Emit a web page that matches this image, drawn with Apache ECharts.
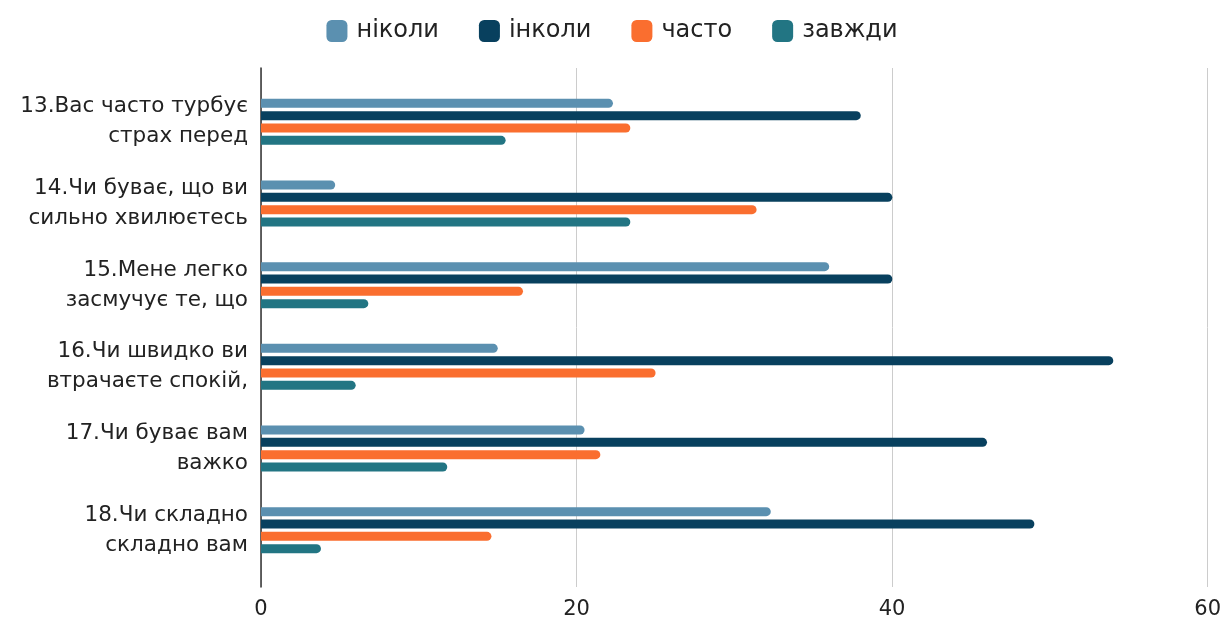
<!DOCTYPE html>
<html>
<head>
<meta charset="utf-8">
<script src="https://cdn.jsdelivr.net/npm/echarts@6/dist/echarts.min.js"></script>
<style>
  html, body { margin: 0; padding: 0; background: #fff; }
  #chart { width: 1224px; height: 620px; }
</style>
</head>
<body>
<div id="chart"></div>
<script>
// Survey questions (two-line labels) and the answer counts for each response option
const categories = [
  '13.Вас часто турбує\nстрах перед',
  '14.Чи буває, що ви\nсильно хвилюєтесь',
  '15.Мене легко\nзасмучує те, що',
  '16.Чи швидко ви\nвтрачаєте спокій,',
  '17.Чи буває вам\nважко',
  '18.Чи складно\nскладно вам'
];
const seriesNames = ['ніколи', 'інколи', 'часто', 'завжди'];
const never     = [22.3, 4.7, 36, 15, 20.5, 32.3];
const sometimes = [38, 40, 40, 54, 46, 49];
const often     = [23.4, 31.4, 16.6, 25, 21.5, 14.6];
const always    = [15.5, 23.4, 6.8, 6, 11.8, 3.8];
const xTicks = { min: 0, max: 60, interval: 20 };

const colors = ['#5b90b0', '#08405e', '#fa6e2f', '#227583'];
const values = [never, sometimes, often, always];
const font = '"DejaVu Sans", "Liberation Sans", Arial, sans-serif';

const chart = echarts.init(document.getElementById('chart'), null, { renderer: 'canvas' });

chart.setOption({
  animation: false,
  color: colors,
  legend: {
    top: 14,
    left: 'center',
    itemWidth: 21,
    itemHeight: 22,
    itemGap: 40,
    icon: 'roundRect',
    textStyle: { fontFamily: font, fontSize: 24, color: '#222', padding: [0, 0, 0, 4] },
    data: seriesNames
  },
  grid: [
    // frame: gridlines, value labels and the vertical baseline
    { left: 261, right: 16, top: 68, bottom: 30 },
    // bars and question labels
    { left: 261, right: 16, top: 81, bottom: 49 }
  ],
  xAxis: [
    {
      gridIndex: 0, type: 'value',
      min: xTicks.min, max: xTicks.max, interval: xTicks.interval,
      axisLine: { show: false }, axisTick: { show: false },
      splitLine: { show: true, lineStyle: { color: '#cccccc', width: 1 } },
      axisLabel: { fontFamily: font, fontSize: 21, color: '#222', margin: 12 }
    },
    {
      gridIndex: 1, type: 'value',
      min: xTicks.min, max: xTicks.max, interval: xTicks.interval,
      show: false
    }
  ],
  yAxis: [
    {
      gridIndex: 0, type: 'category', data: [''],
      axisLine: { show: true, lineStyle: { color: '#333', width: 1.5 } },
      axisTick: { show: false }, axisLabel: { show: false }, splitLine: { show: false }
    },
    {
      gridIndex: 1, type: 'category', data: categories, inverse: true,
      axisLine: { show: false }, axisTick: { show: false },
      axisLabel: {
        fontFamily: font, fontSize: 21.5, color: '#222',
        lineHeight: 30, margin: 13, align: 'right'
      }
    }
  ],
  series: seriesNames.map((name, i) => ({
    name,
    type: 'bar',
    xAxisIndex: 1,
    yAxisIndex: 1,
    data: values[i],
    barWidth: 9,
    barGap: '37%',
    itemStyle: { color: colors[i], borderRadius: [0, 5, 5, 0] }
  }))
});
</script>
</body>
</html>
